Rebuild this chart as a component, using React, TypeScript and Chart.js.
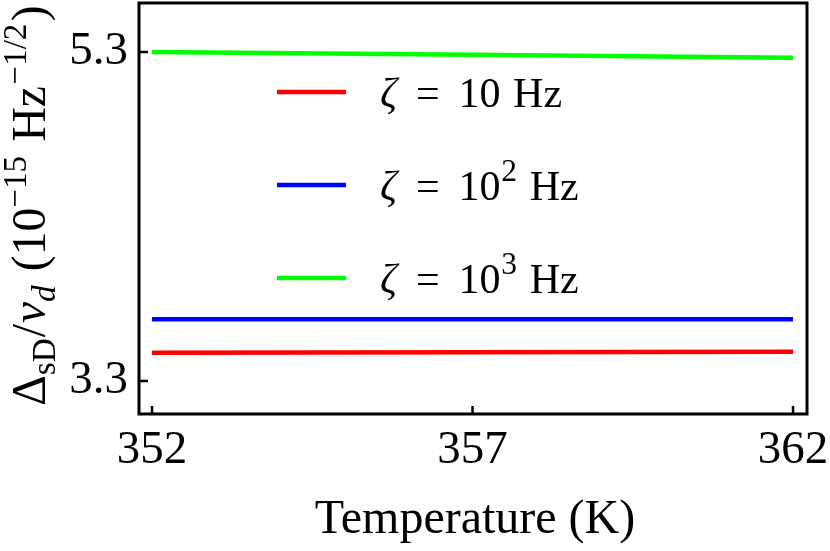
import { useEffect, useRef } from 'react';
import { Chart, registerables } from 'chart.js';

Chart.register(...registerables);

// ---- data ----
const temperatures = [352, 357, 362];
const zeta10 = [3.472, 3.475, 3.478];
const zeta100 = [3.675, 3.675, 3.676];
const zeta1000 = [5.3, 5.283, 5.265];
const xTickValues = [352, 357, 362];
const yTickValues = [3.3, 5.3];
const seriesColors = ['#ff0000', '#0000ff', '#00ff00'];
const legendExponents = ['', '2', '3'];
const xTitle = 'Temperature (K)';

const SERIF = "'Liberation Serif', 'Times New Roman', serif";

type Seg = { t: string; italic?: boolean; script?: 'sup' | 'sub'; gap?: number; scale?: number; rise?: number };

function segSize(s: Seg, size: number) {
  return s.script ? size * (s.scale ?? 0.7) : size;
}
function setFont(ctx: CanvasRenderingContext2D, s: Seg, size: number) {
  ctx.font = `${s.italic ? 'italic ' : ''}${segSize(s, size)}px ${SERIF}`;
}
function measureRich(ctx: CanvasRenderingContext2D, segs: Seg[], size: number) {
  let w = 0;
  for (const s of segs) {
    setFont(ctx, s, size);
    w += (s.gap ?? 0) * size + ctx.measureText(s.t).width;
  }
  return w;
}
function drawRich(ctx: CanvasRenderingContext2D, segs: Seg[], x: number, y: number, size: number) {
  let cx = x;
  ctx.textAlign = 'left';
  ctx.textBaseline = 'alphabetic';
  for (const s of segs) {
    setFont(ctx, s, size);
    cx += (s.gap ?? 0) * size;
    let dy = 0;
    if (s.script === 'sup') dy = -(s.rise ?? 0.42) * size;
    if (s.script === 'sub') dy = (s.rise ?? 0.22) * size;
    ctx.fillText(s.t, cx, y + dy);
    cx += ctx.measureText(s.t).width;
  }
}

const yTitleSegs: Seg[] = [
  { t: 'Δ' },
  { t: 'sD', script: 'sub', rise: 0.2 },
  { t: '/', gap: 0.02 },
  { t: 'ν', italic: true, gap: 0.02 },
  { t: 'd', italic: true, script: 'sub', rise: 0.2 },
  { t: '(10', gap: 0.3 },
  { t: '−15', script: 'sup', rise: 0.4 },
  { t: 'Hz', gap: 0.3 },
  { t: '−1/2', script: 'sup', rise: 0.4, gap: 0.03 },
  { t: ')', gap: 0.05 },
];

const framePlugin = {
  id: 'frameAndText',
  afterDraw(chart: any) {
    const { ctx, chartArea } = chart;
    const { left, right, top, bottom } = chartArea;
    const xs = chart.scales.x;
    const ys = chart.scales.y;
    ctx.save();
    // inward ticks
    ctx.strokeStyle = '#000';
    ctx.lineWidth = 2.5;
    ctx.beginPath();
    for (const v of xTickValues) {
      const px = xs.getPixelForValue(v);
      ctx.moveTo(px, bottom);
      ctx.lineTo(px, bottom - 8);
    }
    for (const v of yTickValues) {
      const py = ys.getPixelForValue(v);
      ctx.moveTo(left, py);
      ctx.lineTo(left + 9, py);
    }
    ctx.stroke();
    // frame
    ctx.lineWidth = 3;
    ctx.strokeRect(left, top, right - left, bottom - top);

    ctx.fillStyle = '#000';
    // x title
    ctx.font = `48px ${SERIF}`;
    ctx.textAlign = 'center';
    ctx.textBaseline = 'alphabetic';
    ctx.fillText(xTitle, (left + right) / 2 + 2, bottom + 119);

    // y title (rotated)
    const ySize = 47.5;
    const w = measureRich(ctx, yTitleSegs, ySize);
    ctx.save();
    ctx.translate(45, (top + bottom) / 2 - 3);
    ctx.rotate(-Math.PI / 2);
    drawRich(ctx, yTitleSegs, -w / 2, 0, ySize);
    ctx.restore();

    // legend
    const lSize = 42;
    chart.data.datasets.forEach((ds: any, i: number) => {
      const ly = top + 89 + i * 93;
      ctx.strokeStyle = ds.borderColor;
      ctx.lineWidth = 4.5;
      ctx.beginPath();
      ctx.moveTo(left + 138, ly);
      ctx.lineTo(left + 207, ly);
      ctx.stroke();
      ctx.fillStyle = '#000';
      const exp = legendExponents[i];
      const segs: Seg[] = [
        { t: 'ζ', italic: true },
        { t: '=', gap: 0.45 },
        { t: '10', gap: 0.45 },
      ];
      if (exp) segs.push({ t: exp, script: 'sup', scale: 0.75, rise: 0.45, gap: 0.02 });
      segs.push({ t: 'Hz', gap: 0.3 });
      drawRich(ctx, segs, left + 241, ly + 15, lSize);
    });
    ctx.restore();
  },
};

export default function App() {
  const ref = useRef<HTMLCanvasElement | null>(null);
  useEffect(() => {
    if (!ref.current) return;
    const labels = ['ζ = 10 Hz', 'ζ = 10² Hz', 'ζ = 10³ Hz'];
    const series = [zeta10, zeta100, zeta1000];
    const chart = new Chart(ref.current, {
      type: 'line',
      data: {
        datasets: series.map((vals, i) => ({
          label: labels[i],
          data: temperatures.map((t, j) => ({ x: t, y: vals[j] })),
          borderColor: seriesColors[i],
          backgroundColor: seriesColors[i],
          borderWidth: 4.5,
          pointRadius: 0,
          tension: 0,
          fill: false,
        })),
      },
      options: {
        animation: false,
        responsive: false,
        devicePixelRatio: 1,
        layout: { padding: { left: 0, top: 3, right: 23, bottom: 0 } },
        plugins: { legend: { display: false }, tooltip: { enabled: false }, title: { display: false } },
        scales: {
          x: {
            type: 'linear',
            min: 351.797,
            max: 362.218,
            grid: { display: false, drawTicks: false },
            border: { display: false },
            afterBuildTicks: (s: any) => { s.ticks = xTickValues.map((v) => ({ value: v })); },
            afterFit: (s: any) => {
              s.height = 551 - 414;
              s.paddingLeft = 0;
              s.paddingRight = 0;
            },
            ticks: {
              color: '#000',
              font: { family: SERIF, size: 47 },
              padding: 8,
              maxRotation: 0,
              autoSkip: false,
              callback: (v: any) => String(v),
            },
          },
          y: {
            type: 'linear',
            min: 3.0994,
            max: 5.598,
            grid: { display: false, drawTicks: false },
            border: { display: false },
            afterBuildTicks: (s: any) => { s.ticks = yTickValues.map((v) => ({ value: v })); },
            afterFit: (s: any) => {
              s.width = 139;
              s.paddingTop = 0;
              s.paddingBottom = 0;
            },
            ticks: {
              color: '#000',
              font: { family: SERIF, size: 47 },
              padding: 11,
              autoSkip: false,
              callback: (v: any) => Number(v).toFixed(1),
            },
          },
        },
      },
      plugins: [framePlugin],
    });
    return () => chart.destroy();
  }, []);
  return (
    <div style={{ position: 'absolute', left: 0, top: 0, width: 830, height: 551, background: '#fff' }}>
      <canvas ref={ref} width={830} height={551} style={{ display: 'block' }} />
    </div>
  );
}
